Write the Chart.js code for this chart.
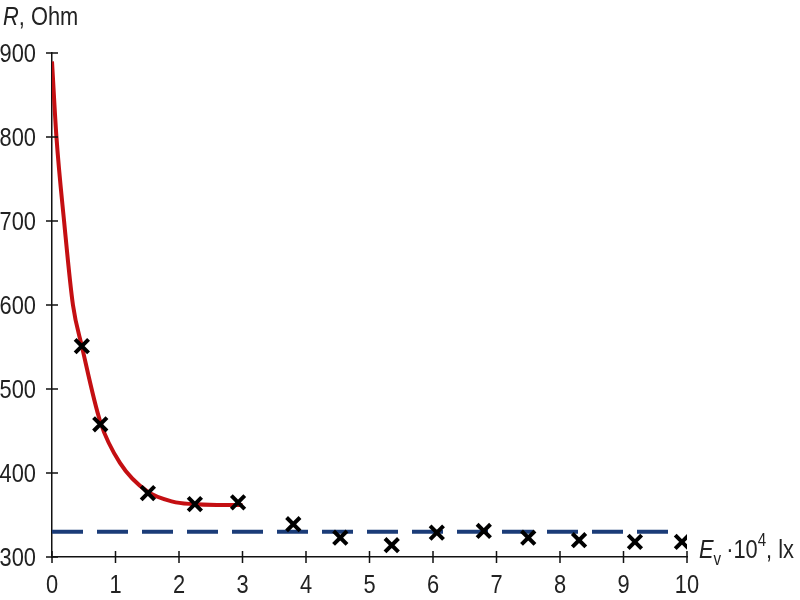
<!DOCTYPE html>
<html>
<head>
<meta charset="utf-8">
<script src="https://cdn.jsdelivr.net/npm/chart.js@4"></script>
<style>
    html, body { margin: 0; padding: 0; background: #fff; }
    #wrap { width: 800px; height: 600px; }
</style>
</head>
<body>
<div id="wrap"><canvas id="chart" width="800" height="600"></canvas></div>
<script>
// measured points (E_v * 10^4 lx, R Ohm)
const measX = [0.47, 0.76, 1.51, 2.25, 2.93, 3.80, 4.54, 5.35, 6.06, 6.80, 7.50, 8.30, 9.18, 9.92];
const measR = [551, 458, 376, 363, 365, 339, 323, 314, 329, 331, 323, 320, 318, 318];

// red curve
const curveX = [0, 0.07, 0.19, 0.33, 0.47, 0.76, 1.07, 1.5, 1.9, 2.2, 2.6, 3.0];
const curveR = [890, 800, 700, 600, 551, 461, 412, 378, 366, 363, 362, 362];

// dashed level
const levelX = [0, 9.75];
const levelR = [330, 330];

const xTicks = [0, 1, 2, 3, 4, 5, 6, 7, 8, 9, 10];
const yTicks = [300, 400, 500, 600, 700, 800, 900];

const FONT = '"Liberation Sans", Arial, Helvetica, sans-serif';
const SQUEEZE = 0.84; // reference uses a condensed face

function toPoints(xs, ys) {
    return xs.map((x, i) => ({ x: x, y: ys[i] }));
}

// draw condensed text, returns the width used
function narrowText(ctx, text, x, y, size, align, italic) {
    ctx.save();
    ctx.font = (italic ? 'italic ' : '') + size + 'px ' + FONT;
    ctx.textAlign = align || 'left';
    ctx.textBaseline = 'alphabetic';
    ctx.translate(x, y);
    ctx.scale(SQUEEZE, 1);
    ctx.fillText(text, 0, 0);
    const w = ctx.measureText(text).width * SQUEEZE;
    ctx.restore();
    return w;
}

// tick marks crossing the axis lines, tick labels and axis titles
const axisExtras = {
    id: 'axisExtras',
    afterDraw(chart) {
        const ctx = chart.ctx;
        const xs = chart.scales.x;
        const ys = chart.scales.y;
        const x0 = xs.getPixelForValue(0);
        const y0 = ys.getPixelForValue(300);
        ctx.save();
        ctx.strokeStyle = '#111';
        ctx.lineWidth = 1.5;
        ctx.beginPath();
        xTicks.forEach(v => {
            const px = xs.getPixelForValue(v);
            ctx.moveTo(px, y0 - 6);
            ctx.lineTo(px, y0 + 6);
        });
        yTicks.forEach(v => {
            const py = ys.getPixelForValue(v);
            ctx.moveTo(x0 - 6, py);
            ctx.lineTo(x0 + 6, py);
        });
        ctx.stroke();

        ctx.fillStyle = '#222';
        xTicks.forEach(v => {
            narrowText(ctx, String(v), xs.getPixelForValue(v), 593, 26, 'center');
        });
        yTicks.forEach(v => {
            narrowText(ctx, String(v), 36, ys.getPixelForValue(v) + 9, 26, 'right');
        });

        // R, Ohm
        let px = 3;
        px += narrowText(ctx, 'R', px, 25, 26, 'left', true);
        narrowText(ctx, ', Ohm', px, 25, 26, 'left');

        // E_v ·10^4, lx
        px = 699;
        const base = 558;
        px += narrowText(ctx, 'E', px, base, 26, 'left', true);
        px += narrowText(ctx, 'v', px, base + 7, 18, 'left') + 5;
        px += narrowText(ctx, '·10', px, base, 26, 'left');
        px += narrowText(ctx, '4', px, base - 12, 18, 'left');
        narrowText(ctx, ', lx', px, base, 26, 'left');
        ctx.restore();
    }
};

const ctx = document.getElementById('chart').getContext('2d');
new Chart(ctx, {
    type: 'scatter',
    data: {
        datasets: [
            {
                label: 'measured',
                data: toPoints(measX, measR),
                pointStyle: 'crossRot',
                pointRadius: 9.5,
                pointHoverRadius: 9.5,
                borderColor: '#000',
                backgroundColor: '#000',
                pointBorderWidth: 4,
                showLine: false,
                order: 0
            },
            {
                label: 'fit',
                data: toPoints(curveX, curveR),
                showLine: true,
                borderColor: '#c40f12',
                borderWidth: 4,
                pointRadius: 0,
                cubicInterpolationMode: 'monotone',
                fill: false,
                order: 1
            },
            {
                label: 'level',
                data: toPoints(levelX, levelR),
                showLine: true,
                borderColor: '#1b3c78',
                borderWidth: 4,
                borderDash: [31, 14],
                pointRadius: 0,
                fill: false,
                order: 2
            }
        ]
    },
    options: {
        responsive: false,
        animation: false,
        layout: {
            padding: { top: 53, right: 113, left: 0, bottom: 0 }
        },
        scales: {
            x: {
                type: 'linear',
                min: 0,
                max: 10,
                afterFit: scale => { scale.height = 43; },
                afterBuildTicks: scale => { scale.ticks = xTicks.map(v => ({ value: v })); },
                grid: { display: false },
                border: { display: true, color: '#111', width: 1.5 },
                ticks: { display: false }
            },
            y: {
                type: 'linear',
                min: 300,
                max: 900,
                afterFit: scale => { scale.width = 52; },
                afterBuildTicks: scale => { scale.ticks = yTicks.map(v => ({ value: v })); },
                grid: { display: false },
                border: { display: true, color: '#111', width: 1.5 },
                ticks: { display: false }
            }
        },
        plugins: {
            legend: { display: false },
            tooltip: { enabled: false }
        }
    },
    plugins: [axisExtras]
});
</script>
</body>
</html>
